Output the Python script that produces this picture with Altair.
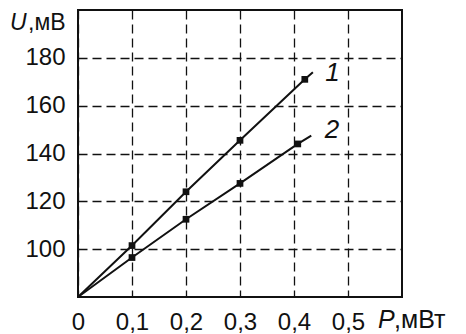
import altair as alt
import pandas as pd

# Curve 1
p1 = [0.0, 0.1, 0.2, 0.3, 0.42, 0.435]
u1 = [80, 101.5, 124, 145.5, 171, 174]
m1 = [False, True, True, True, True, False]
# Curve 2
p2 = [0.0, 0.1, 0.2, 0.3, 0.407, 0.432]
u2 = [80, 96.5, 112.5, 127.5, 144, 147.5]
m2 = [False, True, True, True, True, False]

x_ticks = [0, 0.1, 0.2, 0.3, 0.4, 0.5]
y_ticks = [100, 120, 140, 160, 180]

curve_labels = ["1", "2"]
label_p = [0.458, 0.457]
label_u = [173.5, 150]

FONT = "Liberation Sans"
INK = "#111111"
FS = 24

rows = []
for c, ps, us, ms in [("1", p1, u1, m1), ("2", p2, u2, m2)]:
    for i, (p, u, m) in enumerate(zip(ps, us, ms)):
        rows.append({"curve": c, "P": p, "U": u, "marker": m, "order": i})
df = pd.DataFrame(rows)
lab = pd.DataFrame({"curve": curve_labels, "P": label_p, "U": label_u})

xs = alt.Scale(domain=[0, 0.6], nice=False, zero=False)
ys = alt.Scale(domain=[80, 200], nice=False, zero=False)

xaxis = alt.Axis(values=x_ticks, format=".1~f", labelExpr="replace(datum.label, '.', ',')",
                 grid=True, gridDash=[9, 5], gridColor=INK, gridOpacity=1, gridWidth=1.3,
                 ticks=False, domain=False, labelFontSize=FS, labelFont=FONT,
                 labelColor=INK, labelPadding=13, title=None, labelFlush=False)
yaxis = alt.Axis(values=y_ticks, grid=True, gridDash=[9, 5], gridColor=INK, gridOpacity=1,
                 gridWidth=1.3, ticks=False, domain=False, labelFontSize=FS, labelFont=FONT,
                 labelColor=INK, labelPadding=13, title=None)

base = alt.Chart(df)
lines = base.mark_line(color=INK, strokeWidth=2).encode(
    x=alt.X("P:Q", scale=xs, axis=xaxis),
    y=alt.Y("U:Q", scale=ys, axis=yaxis),
    detail="curve:N",
    order="order:Q",
)
pts = base.transform_filter("datum.marker").mark_square(color=INK, size=45, opacity=1).encode(
    x=alt.X("P:Q", scale=xs), y=alt.Y("U:Q", scale=ys)
)
labels = alt.Chart(lab).mark_text(font=FONT, fontSize=26, fontStyle="italic", color=INK,
                                  align="left", baseline="middle").encode(
    x=alt.X("P:Q", scale=xs), y=alt.Y("U:Q", scale=ys), text="curve:N"
)

def txt(s, x, y, italic=False, size=FS):
    return alt.Chart(pd.DataFrame({"t": [s]})).mark_text(
        font=FONT, fontSize=size, fontStyle="italic" if italic else "normal",
        color=INK, align="left", baseline="alphabetic").encode(
        x=alt.value(x), y=alt.value(y), text="t:N")

titles = [
    txt("U", -68, 20, True, 23),
    txt(",мВ", -50, 20, False, 23),
    txt("P", 300, 318, True, 25),
    txt(",мВт", 316, 318, False, 25),
]

chart = alt.layer(lines, pts, labels, *titles).properties(
    width=324, height=287,
    padding={"left": 70, "top": 2, "right": 56, "bottom": 37},
    autosize=alt.AutoSizeParams(type="none"),
).configure_view(stroke=INK, strokeWidth=2).configure_text(limit=0)

chart.save("out.html", embed_options={"renderer": "svg", "actions": False})
